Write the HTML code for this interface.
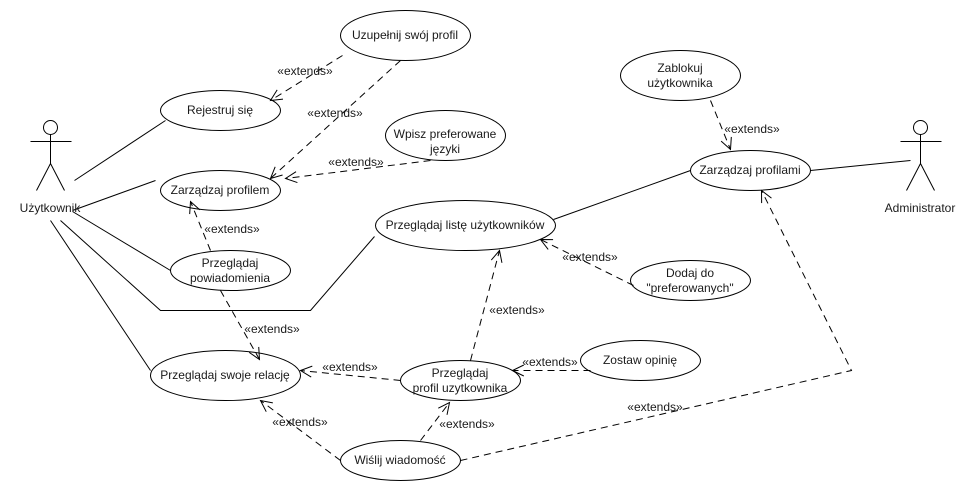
<!DOCTYPE html>
<html lang="pl">
<head>
<meta charset="utf-8">
<style>
html,body{margin:0;padding:0;background:#fff;width:980px;height:490px;overflow:hidden}
svg{display:block}
text{font-family:"Liberation Sans",Arial,sans-serif;font-size:12px;fill:#1a1a1a;text-anchor:middle}
.s{fill:none;stroke:#000;stroke-width:1}
.d{fill:none;stroke:#000;stroke-width:1;stroke-dasharray:7 5;marker-end:url(#a)}
ellipse{fill:#fff;stroke:#000;stroke-width:1}
</style>
</head>
<body>
<svg width="980" height="490" viewBox="0 0 980 490" xmlns="http://www.w3.org/2000/svg">
<defs>
<marker id="a" markerUnits="userSpaceOnUse" markerWidth="30" markerHeight="30" refX="15" refY="15" orient="auto" overflow="visible">
<path d="M3.7 9.5 L15 15 L3.7 20.5" fill="none" stroke="#000" stroke-width="1" stroke-dasharray="none"/>
</marker>
</defs>
<g transform="translate(0.5,0.5)">
<!-- solid association lines -->
<path class="s" d="M74 180L165 120"/>
<path class="s" d="M72 210L155 180"/>
<path class="s" d="M72 211L170 270"/>
<path class="s" d="M60 220L160 310L310 310L374 236"/>
<path class="s" d="M50 220L150 370"/>
<path class="s" d="M553 219L690 170"/>
<path class="s" d="M810 170L910 160"/>

<!-- ellipses -->
<ellipse cx="220" cy="110" rx="60" ry="20"/>
<ellipse cx="220" cy="190" rx="60" ry="20"/>
<ellipse cx="405" cy="35" rx="65" ry="25"/>
<ellipse cx="445" cy="135" rx="60" ry="25"/>
<ellipse cx="230" cy="270" rx="60" ry="20"/>
<ellipse cx="225" cy="375" rx="75" ry="25"/>
<ellipse cx="460" cy="380" rx="60" ry="20"/>
<ellipse cx="400" cy="460" rx="60" ry="20"/>
<ellipse cx="465" cy="225" rx="90" ry="25"/>
<ellipse cx="690" cy="280" rx="60" ry="20"/>
<ellipse cx="640" cy="360" rx="60" ry="20"/>
<ellipse cx="680" cy="75" rx="60" ry="25"/>
<ellipse cx="750" cy="170" rx="60" ry="20"/>

<!-- dashed extends lines -->
<path class="d" d="M342 55L270 100"/>
<path class="d" d="M400 60L270 178"/>
<path class="d" d="M430 160L285 178"/>
<path class="d" d="M210 250L190 201"/>
<path class="d" d="M220 290L259 359"/>
<path class="d" d="M400 380L300 370"/>
<path class="d" d="M340 460L260 400"/>
<path class="d" d="M420 440L449 402"/>
<path class="d" d="M460 460L851 370L761 190"/>
<path class="d" d="M470 360L499 250"/>
<path class="d" d="M633 285L540 239"/>
<path class="d" d="M590 370L512 370"/>
<path class="d" d="M710 100L730 149"/>

<!-- actors -->
<g class="s">
<circle cx="50" cy="127" r="7" class="s"/>
<path class="s" d="M50 134V163M30 141H71M50 163L36 190M50 163L64 190"/>
<circle cx="920" cy="127" r="7" class="s"/>
<path class="s" d="M920 134V163M900 141H941M920 163L906 190M920 163L934 190"/>
</g>
</g>

<!-- ellipse labels -->
<text x="220" y="114">Rejestruj się</text>
<text x="220" y="194">Zarządzaj profilem</text>
<text x="405" y="39">Uzupełnij swój profil</text>
<text x="445" y="138">Wpisz preferowane</text>
<text x="445" y="153">języki</text>
<text x="230" y="267">Przeglądaj</text>
<text x="230" y="282">powiadomienia</text>
<text x="225" y="379">Przeglądaj swoje relację</text>
<text x="460" y="377">Przeglądaj</text>
<text x="460" y="392">profil uzytkownika</text>
<text x="400" y="464">Wiślij wiadomość</text>
<text x="465" y="229">Przeglądaj listę użytkowników</text>
<text x="690" y="277">Dodaj do</text>
<text x="690" y="292">"preferowanych"</text>
<text x="640" y="364">Zostaw opinię</text>
<text x="680" y="72">Zablokuj</text>
<text x="680" y="87">użytkownika</text>
<text x="750" y="174">Zarządzaj profilami</text>
<text x="50" y="212">Użytkownik</text>
<text x="920" y="212">Administrator</text>

<!-- connector labels -->
<text x="305" y="75">«extends»</text>
<text x="335" y="117">«extends»</text>
<text x="356" y="166">«extends»</text>
<text x="232" y="233">«extends»</text>
<text x="272" y="333">«extends»</text>
<text x="350" y="371">«extends»</text>
<text x="300" y="426">«extends»</text>
<text x="467" y="428">«extends»</text>
<text x="590" y="261">«extends»</text>
<text x="517" y="314">«extends»</text>
<text x="550" y="366">«extends»</text>
<text x="752" y="133">«extends»</text>
<text x="655" y="411">«extends»</text>
</svg>
</body>
</html>
